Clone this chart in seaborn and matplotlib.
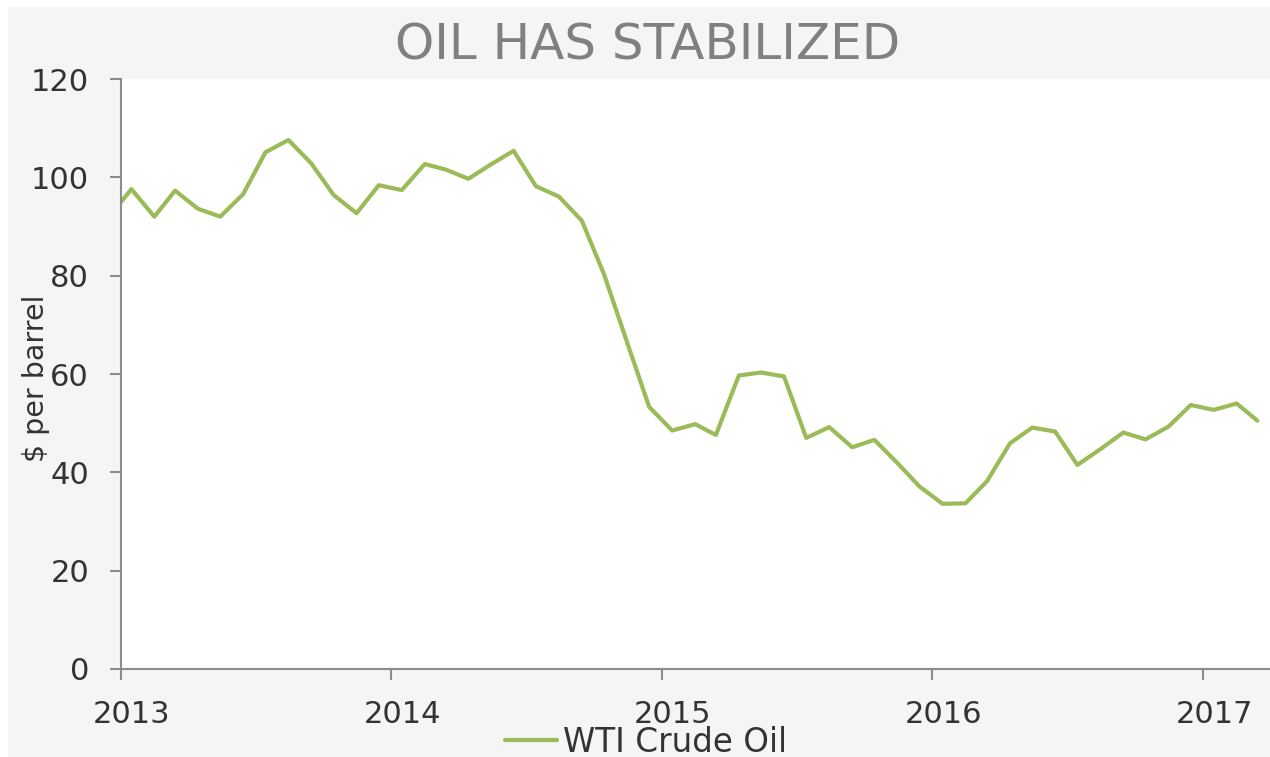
import numpy as np
import pandas as pd
import matplotlib
matplotlib.use("Agg")
import matplotlib.pyplot as plt
import matplotlib.dates as mdates
import matplotlib.transforms as mtransforms
import seaborn as sns

# ---- data (monthly WTI crude oil, $ per barrel) ----
months = pd.date_range("2012-12-01", "2017-03-01", freq="MS") + pd.Timedelta(days=14)
wti = [91.8,
       97.6, 92.0, 97.3, 93.6, 92.0, 96.6, 105.1, 107.6, 102.8, 96.4, 92.7, 98.4,
       97.4, 102.7, 101.6, 99.7, 102.6, 105.4, 98.2, 96.1, 91.2, 80.3, 66.5, 53.3,
       48.5, 49.8, 47.6, 59.7, 60.3, 59.5, 47.0, 49.2, 45.1, 46.6, 41.9, 37.1,
       33.6, 33.7, 38.2, 45.9, 49.1, 48.3, 41.5, 44.7, 48.1, 46.7, 49.3, 53.7,
       52.7, 54.0, 50.5]
series_name = "WTI Crude Oil"
title = "OIL HAS STABILIZED"
y_label = "$ per barrel"
y_ticks = [0, 20, 40, 60, 80, 100, 120]
x_tick_years = ["2013", "2014", "2015", "2016", "2017"]

df = pd.DataFrame({"date": months, "value": wti, "series": series_name})

sns.set_style("white")
plt.rcParams["font.family"] = ["DejaVu Sans"]

W, H = 1270, 757
fig = plt.figure(figsize=(W / 100, H / 100), dpi=100, facecolor="white")
# gray panel background (behind everything)
bg = fig.add_axes([8 / W, 0, 1 - 8 / W, (H - 7) / H], zorder=-10)
bg.set_facecolor("#f5f5f5")
bg.set_xticks([])
bg.set_yticks([])
for s in bg.spines.values():
    s.set_visible(False)

ax = fig.add_axes([121 / W, (H - 669) / H, 1 - 121 / W, (669 - 79) / H], zorder=1)
ax.set_facecolor("white")

sns.lineplot(data=df, x="date", y="value", hue="series", palette=["#9BBB59"],
             linewidth=3, ax=ax)

ax.set_ylim(0, 120)
ax.set_yticks(y_ticks)
ax.set_xlim(pd.Timestamp("2013-01-01"), pd.Timestamp("2017-04-01"))
ax.set_xticks([pd.Timestamp(y + "-01-01") for y in x_tick_years])
ax.xaxis.set_major_formatter(mdates.DateFormatter("%Y"))

for s in ["top", "right"]:
    ax.spines[s].set_visible(False)
for s in ["left", "bottom"]:
    ax.spines[s].set_color("#8c8c8c")
    ax.spines[s].set_linewidth(1.5)

ax.tick_params(axis="both", direction="out", length=8, width=1.5, color="#8c8c8c",
               labelsize=22, labelcolor="#333333", left=True, bottom=True)
ax.tick_params(axis="y", pad=15)
ax.tick_params(axis="x", pad=14)

# x tick labels sit slightly right of their ticks
offset = mtransforms.ScaledTranslation(11 / 100, 0, fig.dpi_scale_trans)
for lbl in ax.get_xticklabels():
    lbl.set_transform(lbl.get_transform() + offset)

ax.set_xlabel("")
ax.set_ylabel(y_label, fontsize=20.5, color="#333333")
ax.yaxis.set_label_coords(-0.0618, 0.492)

fig.text(648 / W, 1 - 46 / H, title, ha="center", va="center", fontsize=36, color="#808080")

leg = ax.legend(loc="center", bbox_to_anchor=(646 / W, 15 / H), bbox_transform=fig.transFigure,
                frameon=False, fontsize=23.5, handlelength=1.6, handletextpad=0.2,
                labelcolor="#333333", borderpad=0)
for h in leg.get_lines():
    h.set_linewidth(3)
leg.set_title(None)

fig.savefig("out.png", dpi=100, facecolor=fig.get_facecolor())
